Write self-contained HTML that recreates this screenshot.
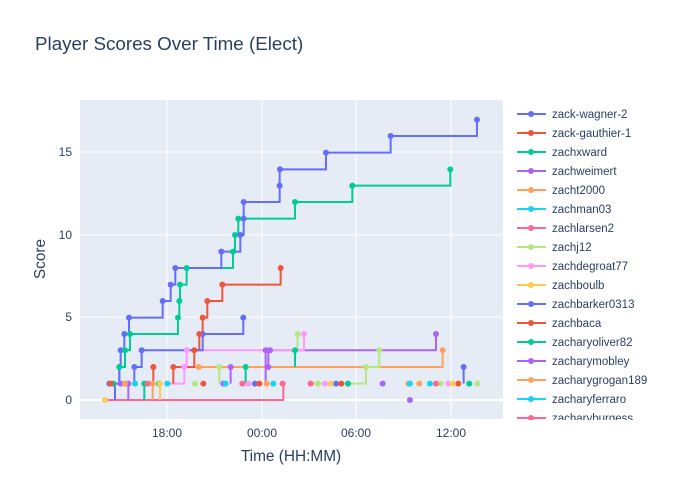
<!DOCTYPE html>
<html><head><meta charset="utf-8"><style>
body{margin:0;background:#fff;}
svg{display:block;font-family:"Liberation Sans",sans-serif;}
</style></head><body>
<svg width="700" height="500" viewBox="0 0 700 500">
<rect width="700" height="500" fill="#fff"/>
<text x="35" y="50" font-size="18.8" fill="#2a3f5f">Player Scores Over Time (Elect)</text>
<rect x="80" y="100" width="423" height="319" fill="#E5ECF6"/>
<g stroke="#fff" stroke-width="1">
<line x1="167" y1="100" x2="167" y2="419"/><line x1="262" y1="100" x2="262" y2="419"/>
<line x1="356" y1="100" x2="356" y2="419"/><line x1="451" y1="100" x2="451" y2="419"/>
<line x1="80" y1="317" x2="503" y2="317"/><line x1="80" y1="235" x2="503" y2="235"/><line x1="80" y1="152" x2="503" y2="152"/>
</g>
<line x1="80" y1="400" x2="503" y2="400" stroke="#fff" stroke-width="2"/>
<g font-size="12" fill="#2a3f5f">
<text x="72" y="404" text-anchor="end">0</text><text x="72" y="321" text-anchor="end">5</text>
<text x="72" y="239" text-anchor="end">10</text><text x="72" y="156" text-anchor="end">15</text>
<text x="167" y="437" text-anchor="middle">18:00</text><text x="262" y="437" text-anchor="middle">00:00</text>
<text x="356" y="437" text-anchor="middle">06:00</text><text x="451" y="437" text-anchor="middle">12:00</text>
</g>
<text x="291" y="461" font-size="15.4" fill="#2a3f5f" text-anchor="middle">Time (HH:MM)</text>
<text x="45" y="259" font-size="15.4" fill="#2a3f5f" text-anchor="middle" transform="rotate(-90 45 259)">Score</text>
<g transform="translate(80,100) scale(0.3333)" fill="none" stroke-width="6">
<path stroke="#FF6692" d="M75,900 H610 V851"/>
<path stroke="#FFA15A" d="M218,900 V851 M356,801 H1088 V751"/>
<path stroke="#FECB52" d="M240,900 V851"/>
<path stroke="#00cc96" d="M193,900 V851 M497,851 V801 M645,801 V751"/>
<path stroke="#ab63fa" d="M145,900 V851 M452,851 V801 M565,801 V751 H1068 V702 M557,851 V751 H570"/>
<path stroke="#B6E880" d="M418,851 V801 M700,851 H858 V801 H898 V751 M580,751 H653 V702"/>
<path stroke="#FF97FF" d="M260,851 H313 V801 H320 V751 H672 V702"/>
<path stroke="#EF553B" d="M220,851 V801 M280,851 V801 H343 V751 H358 V702 H368 V653 H382 V603 H427 V554 H602 V504"/>
<path stroke="#636efa" d="M163,851 V801 H185 V751 H368 V702 H490 V653 M1151,851 V801"/>
<path stroke="#00cc96" d="M100,851 H118 V801 H135 V751 H150 V702 H294 V653 H298 V603 H300 V554 H320 V504 H459 V455 H465 V405 H475 V356 H645 V306 H817 V257 H1111 V208"/>
<path stroke="#636efa" d="M105,900 V851 H118 V801 H122 V751 H133 V702 H147 V653 H248 V603 H272 V554 H286 V504 H424 V455 H481 V405 H491 V356 V306 H599 V257 V208 H738 V158 H932 V108 H1191 V59"/>
</g>
<g transform="translate(80,100) scale(0.3333)" stroke="none">
<g fill="#636efa"><circle cx="118" cy="801" r="9"/><circle cx="122" cy="751" r="9"/><circle cx="133" cy="702" r="9"/><circle cx="147" cy="653" r="9"/><circle cx="248" cy="603" r="9"/><circle cx="272" cy="554" r="9"/><circle cx="286" cy="504" r="9"/><circle cx="424" cy="455" r="9"/><circle cx="481" cy="405" r="9"/><circle cx="491" cy="356" r="9"/><circle cx="491" cy="306" r="9"/><circle cx="599" cy="257" r="9"/><circle cx="600" cy="208" r="9"/><circle cx="738" cy="158" r="9"/><circle cx="932" cy="108" r="9"/><circle cx="1191" cy="59" r="9"/><circle cx="163" cy="801" r="9"/><circle cx="185" cy="751" r="9"/><circle cx="368" cy="702" r="9"/><circle cx="490" cy="653" r="9"/><circle cx="1151" cy="801" r="9"/><circle cx="88" cy="851" r="9"/><circle cx="525" cy="851" r="9"/><circle cx="768" cy="851" r="9"/></g>
<g fill="#00cc96"><circle cx="118" cy="801" r="9"/><circle cx="135" cy="751" r="9"/><circle cx="150" cy="702" r="9"/><circle cx="294" cy="653" r="9"/><circle cx="298" cy="603" r="9"/><circle cx="300" cy="554" r="9"/><circle cx="320" cy="504" r="9"/><circle cx="459" cy="455" r="9"/><circle cx="465" cy="405" r="9"/><circle cx="475" cy="356" r="9"/><circle cx="645" cy="306" r="9"/><circle cx="817" cy="257" r="9"/><circle cx="1111" cy="208" r="9"/><circle cx="497" cy="801" r="9"/><circle cx="645" cy="751" r="9"/><circle cx="100" cy="851" r="9"/><circle cx="237" cy="851" r="9"/><circle cx="804" cy="851" r="9"/><circle cx="1168" cy="851" r="9"/><circle cx="193" cy="851" r="9"/></g>
<g fill="#EF553B"><circle cx="220" cy="801" r="9"/><circle cx="280" cy="801" r="9"/><circle cx="343" cy="751" r="9"/><circle cx="358" cy="702" r="9"/><circle cx="368" cy="653" r="9"/><circle cx="382" cy="603" r="9"/><circle cx="427" cy="554" r="9"/><circle cx="602" cy="504" r="9"/><circle cx="92" cy="851" r="9"/><circle cx="370" cy="851" r="9"/><circle cx="538" cy="851" r="9"/><circle cx="784" cy="851" r="9"/><circle cx="1135" cy="851" r="9"/></g>
<g fill="#ab63fa"><circle cx="452" cy="801" r="9"/><circle cx="565" cy="801" r="9"/><circle cx="557" cy="751" r="9"/><circle cx="570" cy="751" r="9"/><circle cx="1068" cy="702" r="9"/><circle cx="145" cy="851" r="9"/><circle cx="430" cy="851" r="9"/><circle cx="908" cy="851" r="9"/><circle cx="990" cy="900" r="9"/><circle cx="122" cy="851" r="9"/></g>
<g fill="#FFA15A"><circle cx="356" cy="801" r="9"/><circle cx="1088" cy="751" r="9"/><circle cx="135" cy="851" r="9"/><circle cx="560" cy="851" r="9"/><circle cx="985" cy="851" r="9"/><circle cx="1018" cy="851" r="9"/><circle cx="218" cy="851" r="9"/></g>
<g fill="#B6E880"><circle cx="418" cy="801" r="9"/><circle cx="858" cy="801" r="9"/><circle cx="898" cy="751" r="9"/><circle cx="653" cy="702" r="9"/><circle cx="714" cy="851" r="9"/><circle cx="1082" cy="851" r="9"/><circle cx="1193" cy="851" r="9"/><circle cx="345" cy="851" r="9"/></g>
<g fill="#FF97FF"><circle cx="313" cy="801" r="9"/><circle cx="320" cy="751" r="9"/><circle cx="672" cy="702" r="9"/><circle cx="735" cy="851" r="9"/><circle cx="1105" cy="851" r="9"/><circle cx="505" cy="851" r="9"/></g>
<g fill="#19d3f3"><circle cx="165" cy="851" r="9"/><circle cx="262" cy="851" r="9"/><circle cx="437" cy="851" r="9"/><circle cx="580" cy="851" r="9"/><circle cx="990" cy="851" r="9"/><circle cx="1050" cy="851" r="9"/></g>
<g fill="#FF6692"><circle cx="203" cy="851" r="9"/><circle cx="487" cy="851" r="9"/><circle cx="608" cy="851" r="9"/><circle cx="692" cy="851" r="9"/><circle cx="1068" cy="851" r="9"/></g>
<g fill="#FECB52"><circle cx="75" cy="900" r="9"/><circle cx="240" cy="851" r="9"/><circle cx="752" cy="851" r="9"/><circle cx="1118" cy="851" r="9"/></g>
</g>
<defs><clipPath id="lc"><rect x="505" y="100" width="195" height="320"/></clipPath></defs>
<g clip-path="url(#lc)" font-size="11.5" fill="#2a3f5f">
<g transform="translate(0,114)">
<g stroke-width="2">
<line x1="517" x2="546" y1="0" y2="0" stroke="#636efa"/><line x1="517" x2="546" y1="19" y2="19" stroke="#EF553B"/><line x1="517" x2="546" y1="38" y2="38" stroke="#00cc96"/><line x1="517" x2="546" y1="57" y2="57" stroke="#ab63fa"/><line x1="517" x2="546" y1="76" y2="76" stroke="#FFA15A"/><line x1="517" x2="546" y1="95" y2="95" stroke="#19d3f3"/><line x1="517" x2="546" y1="114" y2="114" stroke="#FF6692"/><line x1="517" x2="546" y1="133" y2="133" stroke="#B6E880"/><line x1="517" x2="546" y1="152" y2="152" stroke="#FF97FF"/><line x1="517" x2="546" y1="171" y2="171" stroke="#FECB52"/><line x1="517" x2="546" y1="190" y2="190" stroke="#636efa"/><line x1="517" x2="546" y1="209" y2="209" stroke="#EF553B"/><line x1="517" x2="546" y1="228" y2="228" stroke="#00cc96"/><line x1="517" x2="546" y1="247" y2="247" stroke="#ab63fa"/><line x1="517" x2="546" y1="266" y2="266" stroke="#FFA15A"/><line x1="517" x2="546" y1="285" y2="285" stroke="#19d3f3"/><line x1="517" x2="546" y1="304" y2="304" stroke="#FF6692"/>
</g>
<circle cx="531" cy="0" r="3" fill="#636efa"/><circle cx="531" cy="19" r="3" fill="#EF553B"/><circle cx="531" cy="38" r="3" fill="#00cc96"/><circle cx="531" cy="57" r="3" fill="#ab63fa"/><circle cx="531" cy="76" r="3" fill="#FFA15A"/><circle cx="531" cy="95" r="3" fill="#19d3f3"/><circle cx="531" cy="114" r="3" fill="#FF6692"/><circle cx="531" cy="133" r="3" fill="#B6E880"/><circle cx="531" cy="152" r="3" fill="#FF97FF"/><circle cx="531" cy="171" r="3" fill="#FECB52"/><circle cx="531" cy="190" r="3" fill="#636efa"/><circle cx="531" cy="209" r="3" fill="#EF553B"/><circle cx="531" cy="228" r="3" fill="#00cc96"/><circle cx="531" cy="247" r="3" fill="#ab63fa"/><circle cx="531" cy="266" r="3" fill="#FFA15A"/><circle cx="531" cy="285" r="3" fill="#19d3f3"/><circle cx="531" cy="304" r="3" fill="#FF6692"/>
<text x="552" y="4">zack-wagner-2</text><text x="552" y="23">zack-gauthier-1</text><text x="552" y="42">zachxward</text><text x="552" y="61">zachweimert</text><text x="552" y="80">zacht2000</text><text x="552" y="99">zachman03</text><text x="552" y="118">zachlarsen2</text><text x="552" y="137">zachj12</text><text x="552" y="156">zachdegroat77</text><text x="552" y="175">zachboulb</text><text x="552" y="194">zachbarker0313</text><text x="552" y="213">zachbaca</text><text x="552" y="232">zacharyoliver82</text><text x="552" y="251">zacharymobley</text><text x="552" y="270">zacharygrogan189</text><text x="552" y="289">zacharyferraro</text><text x="552" y="308">zacharyburgess</text>
</g>
</g>
</svg>
</body></html>
